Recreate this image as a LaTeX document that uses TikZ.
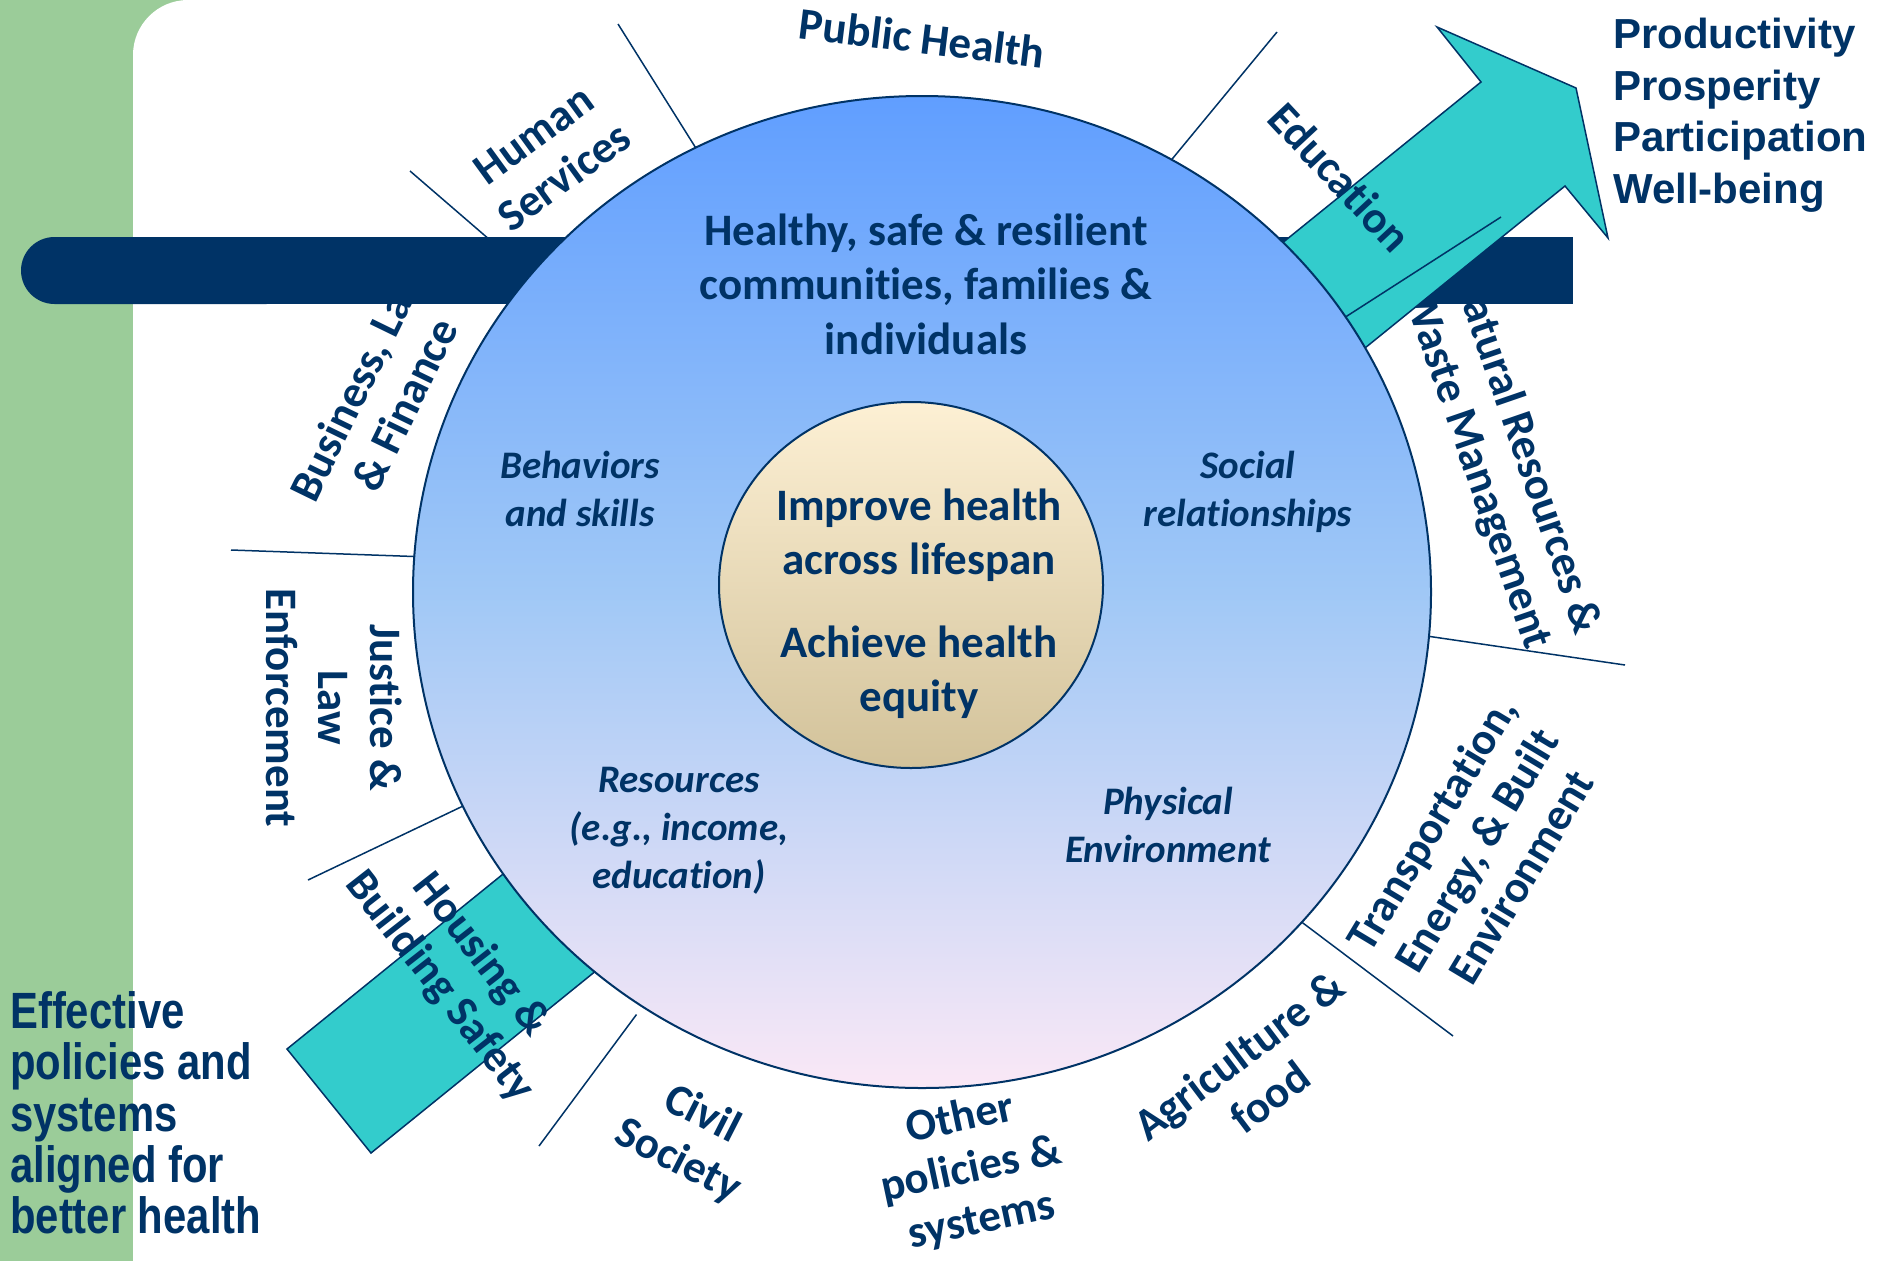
\documentclass[tikz,border=0pt]{standalone}
\usepackage{fontspec}
\setmainfont{Carlito}[Ligatures=NoCommon]
\newfontfamily\arialfont{Liberation Sans}
\newfontfamily\narrowfont[FakeStretch=0.82]{Liberation Sans}
\usetikzlibrary{shapes.geometric}
\definecolor{navy}{RGB}{0,51,102}
\definecolor{leaf}{RGB}{155,204,153}
\definecolor{aqua}{RGB}{51,204,204}
\definecolor{wheeltop}{RGB}{96,158,255}
\definecolor{wheelmid}{RGB}{160,200,246}
\definecolor{wheelbottom}{RGB}{250,232,246}
\definecolor{coretop}{RGB}{253,240,212}
\definecolor{corebottom}{RGB}{210,194,154}
\tikzset{wheel/.style={ellipse,draw=navy,line width=2pt,inner sep=0pt,outer sep=0pt,
           minimum width=1018pt,minimum height=992pt,
           top color=wheeltop,bottom color=wheelbottom,middle color=wheelmid},
         core/.style={ellipse,draw=navy,line width=2pt,inner sep=0pt,outer sep=0pt,
           minimum width=384pt,minimum height=366pt,
           top color=coretop,bottom color=corebottom},
         hub/.style={text=navy,align=center,inner sep=0pt,
           font=\fontsize{45}{54.5}\selectfont\bfseries},
         factor/.style={text=navy,align=center,inner sep=0pt,
           font=\fontsize{39}{48}\selectfont\bfseries\itshape},
         sector/.style={text=navy,align=center,inner sep=0pt,
           font=\fontsize{45}{52}\selectfont\bfseries},
         outcome/.style={text=navy,align=left,inner sep=0pt,anchor=west,
           font=\arialfont\fontsize{42}{51.5}\selectfont\bfseries},
         policy/.style={text=navy,align=left,inner sep=0pt,anchor=west,
           font=\narrowfont\fontsize{51}{51.3}\selectfont\bfseries},
         divider/.style={draw=navy,line width=1.5pt},
         }

\begin{document}
\begin{tikzpicture}[x=1pt,y=-1pt]
\useasboundingbox (0,0) rectangle (1878,1261);
\fill[leaf] (0,0) rectangle (1878,1261);
\fill[white,rounded corners=55] (133,0) rectangle (2000,1400);

\coordinate (wc) at (922,592);
\node[sector,rotate=64] (business) at (381,393) {Business, Law\\\& Finance};
\node[sector,rotate=-71] (natural) at (1501,461) {Natural Resources \&\\Waste Management};

\path (wc) node[wheel,draw=none,opacity=0] (wheel) {};
\draw[divider] (wheel.117) -- (618,24);
\draw[divider] (wheel.141) -- (410,171);
\draw[divider] (wheel.176) -- (231,550);
\draw[divider] (wheel.205) -- (308,880);
\draw[divider,shorten <=10pt] (wheel.236) -- (539,1146);
\draw[divider] (wheel.319) -- (1453,1036);
\draw[divider] (wheel.355) -- (1625,665);
\draw[divider] (wheel.60) -- (1277,32);

\fill[navy,rounded corners=33.5] (21,237) rectangle (300,304);
\fill[navy] (150,237) rectangle (1573,304);

\filldraw[fill=aqua,draw=navy,line width=1.5pt]
  (287,1049) -- (1481,82) -- (1437,27) -- (1576,88) -- (1608,238)
  -- (1565,186) -- (371,1153) -- cycle;
\draw[divider] (wheel.33) -- (1501,217);

\node[wheel] (ring) at (wc) {};
\node[core] (core) at (911,585) {};

\node[hub] (goal) at (926,284) {Healthy, safe \& resilient\\communities, families \&\\individuals};
\node[hub] (improve) at (919,535) {Improve health\\across lifespan};
\node[hub] (equity) at (919,672) {Achieve health\\equity};

\node[factor] (behaviors) at (580,489) {Behaviors\\and skills};
\node[factor] (social) at (1248,492) {Social\\relationships};
\node[factor] (resources) at (679,831) {Resources\\(e.g., income,\\education)};
\node[factor] (physical) at (1168,825) {Physical\\Environment};

\node[sector,rotate=-7] (public) at (922,38) {Public Health};
\node[sector,rotate=36] (human) at (549,156) {Human\\Services};
\node[sector,rotate=-90] (justice) at (334,708) {Justice \&\\Law\\Enforcement};
\node[sector,rotate=-52] (housing) at (460,971) {Housing \&\\Building Safety};
\node[sector,rotate=-27] (civil) at (690,1138) {Civil\\Society};
\node[sector,rotate=12] (other) at (971,1170) {Other\\policies \&\\systems};
\node[sector,rotate=37] (agri) at (1254,1076) {Agriculture \&\\food};
\node[sector,rotate=59] (transport) at (1476,850) {Transportation,\\Energy, \& Built\\Environment};
\node[sector,rotate=-47] (education) at (1340,177) {Education};

\node[outcome] (gains) at (1613,115) {Productivity\\Prosperity\\Participation\\Well-being};
\node[policy] (aligned) at (10,1113) {Effective\\policies and\\systems\\aligned for\\better health};
\end{tikzpicture}
\end{document}
